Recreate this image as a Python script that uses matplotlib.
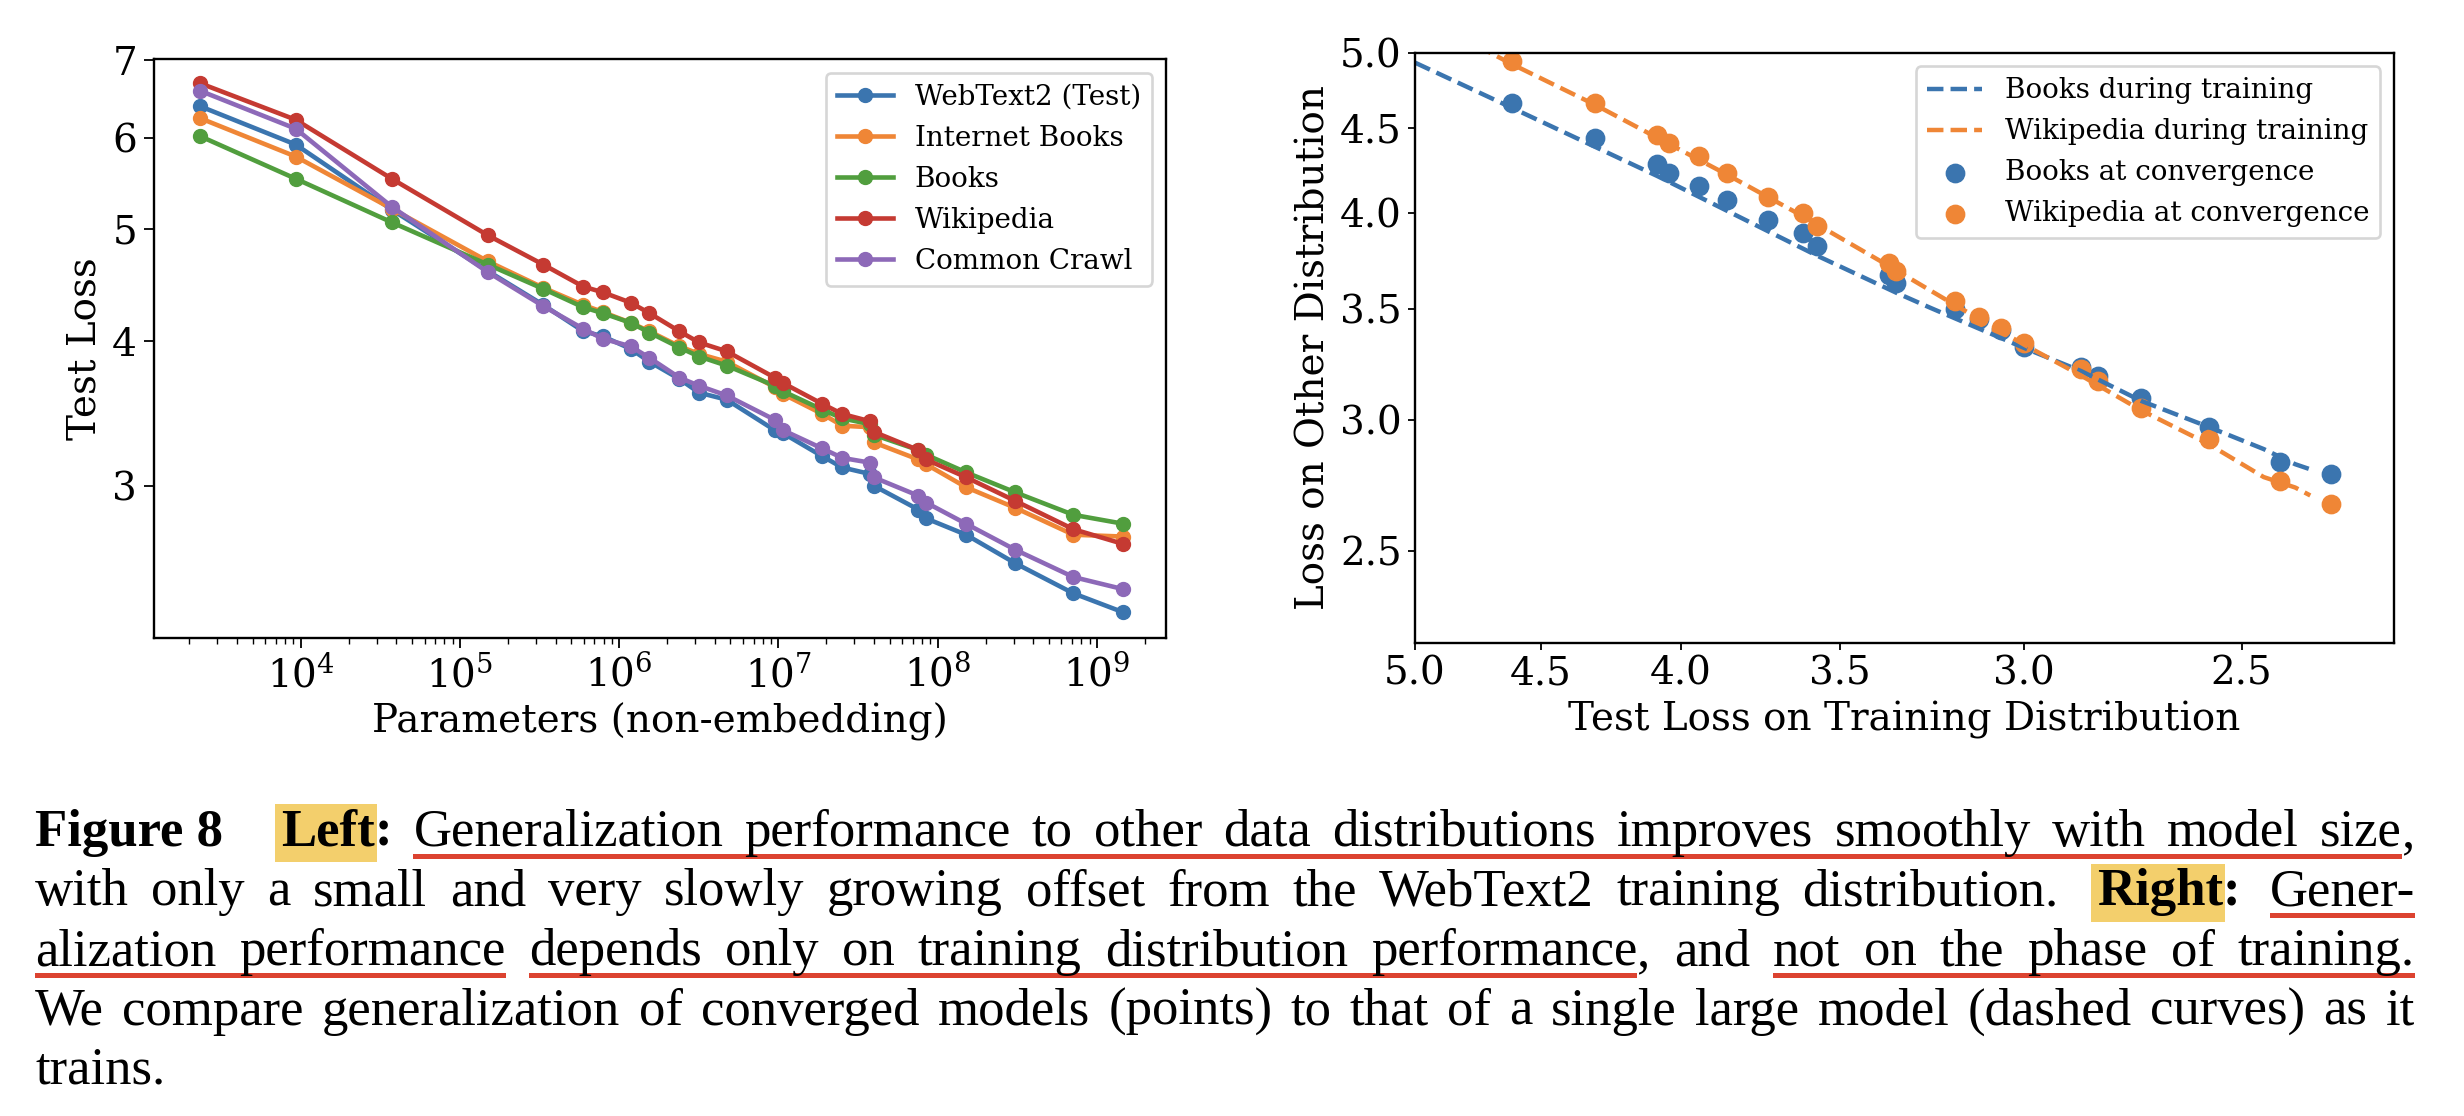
import numpy as np
import matplotlib
matplotlib.use('Agg')
import matplotlib.pyplot as plt
from matplotlib import ticker
from matplotlib.patches import Rectangle
from matplotlib.transforms import IdentityTransform

plt.rcParams['font.family'] = 'DejaVu Serif'
plt.rcParams['mathtext.fontset'] = 'dejavuserif'

# ---- left panel: test loss vs model size ----
params = [2.33e3, 9.3e3, 3.73e4, 1.5e5, 3.34e5, 5.96e5, 7.89e5, 1.18e6, 1.55e6, 2.39e6,
          3.18e6, 4.74e6, 9.5e6, 1.07e7, 1.89e7, 2.52e7, 3.77e7, 3.96e7, 7.57e7, 8.47e7,
          1.51e8, 3.07e8, 7.13e8, 1.47e9]
webtext2 = [6.39, 5.92, 5.20, 4.60, 4.30, 4.08, 4.04, 3.94, 3.84, 3.71, 3.61, 3.56,
            3.35, 3.33, 3.18, 3.11, 3.07, 3.00, 2.86, 2.81, 2.72, 2.57, 2.42, 2.33]
internet_books = [6.24, 5.78, 5.21, 4.69, 4.45, 4.30, 4.24, 4.15, 4.08, 3.96, 3.90, 3.84,
                  3.65, 3.60, 3.46, 3.38, 3.37, 3.27, 3.16, 3.13, 2.99, 2.87, 2.72, 2.71]
books = [6.02, 5.53, 5.07, 4.66, 4.44, 4.28, 4.23, 4.15, 4.07, 3.95, 3.88, 3.81,
         3.66, 3.62, 3.49, 3.43, 3.39, 3.32, 3.22, 3.19, 3.08, 2.96, 2.83, 2.78]
wikipedia = [6.69, 6.22, 5.53, 4.94, 4.66, 4.46, 4.41, 4.32, 4.23, 4.08, 3.99, 3.92,
             3.72, 3.68, 3.53, 3.46, 3.41, 3.34, 3.22, 3.16, 3.05, 2.91, 2.75, 2.67]
common_crawl = [6.59, 6.11, 5.23, 4.59, 4.29, 4.10, 4.02, 3.96, 3.87, 3.72, 3.66, 3.59,
                3.42, 3.35, 3.23, 3.17, 3.14, 3.05, 2.94, 2.90, 2.78, 2.64, 2.50, 2.44]
left_names = ['WebText2 (Test)', 'Internet Books', 'Books', 'Wikipedia', 'Common Crawl']

# ---- right panel: other-distribution loss vs training loss ----
train_conv = [4.61, 4.30, 4.08, 4.04, 3.94, 3.85, 3.72, 3.61, 3.57, 3.36, 3.34,
              3.18, 3.115, 3.06, 3.00, 2.86, 2.82, 2.72, 2.57, 2.42, 2.32]
books_conv = [4.66, 4.44, 4.28, 4.23, 4.15, 4.07, 3.96, 3.89, 3.82, 3.67, 3.63,
              3.50, 3.45, 3.40, 3.32, 3.23, 3.19, 3.09, 2.97, 2.83, 2.78]
wiki_conv = [4.94, 4.66, 4.46, 4.41, 4.33, 4.23, 4.09, 4.00, 3.93, 3.73, 3.69,
             3.54, 3.46, 3.41, 3.34, 3.22, 3.165, 3.05, 2.92, 2.755, 2.67]
books_train_x = [5.0, 4.61, 4.08, 3.57, 3.34, 3.245, 3.00, 2.86, 2.72, 2.57, 2.454, 2.39, 2.36]
books_train_y = [4.93, 4.63, 4.21, 3.77, 3.58, 3.505, 3.315, 3.21, 3.08, 2.97, 2.88, 2.82, 2.80]
wiki_train_x = [4.75, 4.61, 4.30, 4.08, 3.85, 3.61, 3.36, 3.18, 3.00, 2.86, 2.72, 2.57, 2.454, 2.39, 2.36]
wiki_train_y = [5.05, 4.92, 4.65, 4.44, 4.22, 3.98, 3.715, 3.52, 3.33, 3.19, 3.04, 2.90, 2.77, 2.73, 2.70]
right_ticks = [5.0, 4.5, 4.0, 3.5, 3.0, 2.5]

colors = ['#3b75af', '#ef8636', '#519e3e', '#c53a32', '#8d69b8']

W, H = 2464, 1116
fig = plt.figure(figsize=(W / 100, H / 100), dpi=100)

lab_fs = 28
leg_fs = 20

# left plot
ax1 = fig.add_axes([154 / W, 1 - 638 / H, 1012 / W, 579 / H])
for vals, name, c in zip([webtext2, internet_books, books, wikipedia, common_crawl], left_names, colors):
    ax1.plot(params, vals, '-o', color=c, lw=3.3, ms=10, label=name)
ax1.set_xscale('log')
ax1.set_yscale('log')
ax1.set_xlim(1.2e3, 2.72e9)
ax1.set_ylim(2.214, 7.02)
ax1.yaxis.set_major_locator(ticker.FixedLocator([3, 4, 5, 6, 7]))
ax1.yaxis.set_major_formatter(ticker.FormatStrFormatter('%d'))
ax1.yaxis.set_minor_locator(ticker.NullLocator())
ax1.set_xlabel('Parameters (non-embedding)', fontsize=lab_fs, labelpad=6)
ax1.set_ylabel('Test Loss', fontsize=lab_fs, labelpad=6)
ax1.tick_params(which='major', labelsize=lab_fs, length=7.2, width=1.3, pad=5)
ax1.tick_params(which='minor', length=4.6, width=1.0)
leg1 = ax1.legend(loc='upper right', fontsize=leg_fs)
leg1.get_frame().set_linewidth(1.9)

# right plot
ax2 = fig.add_axes([1415 / W, 1 - 642.7 / H, 979 / W, 590.2 / H])
ax2.plot(books_train_x, books_train_y, '--', color=colors[0], lw=3.2, label='Books during training')
ax2.plot(wiki_train_x, wiki_train_y, '--', color=colors[1], lw=3.2, label='Wikipedia during training')
ax2.scatter(train_conv, books_conv, s=175, color=colors[0], label='Books at convergence')
ax2.scatter(train_conv, wiki_conv, s=175, color=colors[1], label='Wikipedia at convergence')
ax2.set_xscale('log')
ax2.set_yscale('log')
ax2.set_xlim(5.0, 2.2)
ax2.set_ylim(2.2, 5.0)
for axis in [ax2.xaxis, ax2.yaxis]:
    axis.set_major_locator(ticker.FixedLocator(right_ticks))
    axis.set_major_formatter(ticker.FormatStrFormatter('%.1f'))
    axis.set_minor_locator(ticker.NullLocator())
ax2.set_xlabel('Test Loss on Training Distribution', fontsize=lab_fs, labelpad=6)
ax2.set_ylabel('Loss on Other Distribution', fontsize=lab_fs, labelpad=5)
ax2.tick_params(labelsize=lab_fs, length=5, width=1.3, pad=4.5)
leg2 = ax2.legend(loc='upper right', fontsize=leg_fs)
leg2.get_frame().set_linewidth(1.9)

for ax in [ax1, ax2]:
    for sp in ax.spines.values():
        sp.set_linewidth(1.7)

# ---- caption, justified word by word ----
renderer = fig.canvas.get_renderer()
cap_family = 'Liberation Serif'
cap_fs = 38
cap_left, cap_right = 35, 2415
baselines = [846, 905.5, 965, 1024.5, 1084]
hl_color = '#f3cf6c'
ul_color = '#dc4330'


def seg(text, bold=False, hl=False, ul=None, glue=1.0, split=True):
    words = text.split(' ') if split else [text]
    out = []
    for i, w in enumerate(words):
        out.append(dict(text=w, bold=bold, hl=hl, ul=ul, glue=glue if i == 0 else 1.0))
    return out


cap_lines = [
    seg('Figure 8', bold=True, glue=0, split=False) + seg('Left', bold=True, hl=True, glue=('px', 58))
    + seg(':', bold=True, glue=0)
    + seg('Generalization performance to other data distributions improves smoothly with model size', ul=1)
    + seg(',', glue=0),
    seg('with only a small and very slowly growing offset from the WebText2 training distribution.', glue=0)
    + seg('Right', bold=True, hl=True, glue=1.7) + seg(':', bold=True, glue=0) + seg('Gener-', ul=1, glue=1.3),
    seg('alization performance', ul=1, glue=0) + seg('depends only on training distribution performance', ul=2)
    + seg(',', glue=0) + seg('and') + seg('not on the phase of training.', ul=3),
    seg('We compare generalization of converged models (points) to that of a single large model '
        '(dashed curves) as it', glue=0),
    seg('trains.', glue=0),
]


def make_text(tok, x, base):
    return fig.text(x, H - base, tok['text'], transform=IdentityTransform(), fontsize=cap_fs,
                    family=cap_family, fontweight='bold' if tok['bold'] else 'normal',
                    ha='left', va='baseline', zorder=5)


# natural width of a space, measured once
probe1 = make_text(dict(text='a a', bold=False), 0, 500)
probe2 = make_text(dict(text='aa', bold=False), 0, 500)
space = probe1.get_window_extent(renderer).width - probe2.get_window_extent(renderer).width
probe1.remove()
probe2.remove()

for li, (toks, base) in enumerate(zip(cap_lines, baselines)):
    texts = [make_text(t, cap_left, base) for t in toks]
    widths = [t.get_window_extent(renderer).width for t in texts]
    fixed = 0.0
    weights = 0.0
    for t in toks[1:]:
        g = t['glue']
        if isinstance(g, tuple):
            fixed += g[1]
        else:
            weights += g
    if li < len(cap_lines) - 1:
        unit = (cap_right - cap_left - sum(widths) - fixed) / weights
    else:
        unit = space
    x = cap_left
    spans = {}
    for i, (t, txt, w) in enumerate(zip(toks, texts, widths)):
        if i > 0:
            g = t['glue']
            x += g[1] if isinstance(g, tuple) else g * unit
        txt.set_x(x)
        if t['hl']:
            fig.add_artist(Rectangle((x - 6, H - (base + 16)), w + 8, 58, transform=IdentityTransform(),
                                     facecolor=hl_color, edgecolor='none', zorder=1))
        if t['ul'] is not None:
            a, b = spans.get(t['ul'], (x, x + w))
            spans[t['ul']] = (min(a, x), max(b, x + w))
        x += w
    for a, b in spans.values():
        fig.add_artist(Rectangle((a, H - (base + 12.5)), b - a, 5, transform=IdentityTransform(),
                                 facecolor=ul_color, edgecolor='none', zorder=2))

fig.savefig('out.png', dpi=100)
